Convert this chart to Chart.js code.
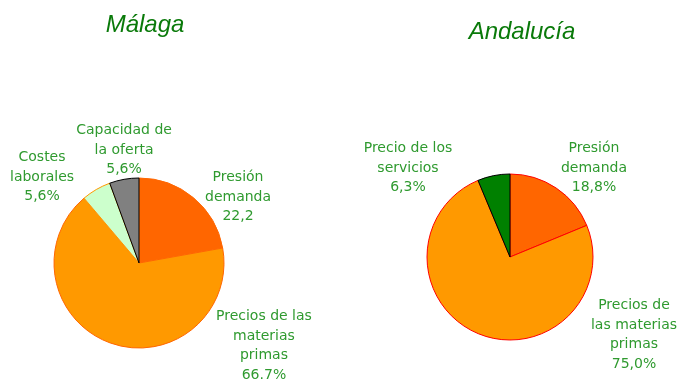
<!DOCTYPE html>
<html>
<head>
<meta charset="utf-8">
<script src="https://cdn.jsdelivr.net/npm/chart.js@4/dist/chart.umd.min.js"></script>
<style>
  html, body { margin: 0; padding: 0; background: #fff; }
  #wrap { position: relative; width: 680px; height: 380px; }
  .box { position: absolute; top: 0; width: 340px; height: 380px; }
</style>
</head>
<body>
<div id="wrap">
  <div class="box" style="left:0"><canvas id="malaga"></canvas></div>
  <div class="box" style="left:340px"><canvas id="andalucia"></canvas></div>
</div>
<script>
// Málaga
const malagaCats = [['Presión', 'demanda'], ['Precios de las', 'materias', 'primas'], ['Costes', 'laborales'], ['Capacidad de', 'la oferta']];
const malagaValues = [22.2, 66.7, 5.6, 5.6];
const malagaSep = [',', '.', ',', ','];
const malagaPct = ['', '%', '%', '%'];

// Andalucía
const andaluciaCats = [['Presión', 'demanda'], ['Precios de', 'las materias', 'primas'], ['Precio de los', 'servicios']];
const andaluciaValues = [18.8, 75.0, 6.3];
const andaluciaSep = [',', ',', ','];
const andaluciaPct = ['%', '%', '%'];

const LABEL_GREEN = '#2f9a2f';
const TITLE_GREEN = '#0a7a0a';

function valueText(v, sep, pct) {
    return v.toFixed(1).replace('.', sep) + pct;
}

// draws the title and the text beside each slice, anchored in units of the pie radius
const sliceText = {
    id: 'sliceText',
    afterDraw(chart, args, opts) {
        const ctx = chart.ctx;
        const arc = chart.getDatasetMeta(0).data[0];
        const cx = arc.x, cy = arc.y, r = arc.outerRadius;
        ctx.save();
        ctx.textAlign = 'center';
        ctx.textBaseline = 'middle';

        ctx.fillStyle = TITLE_GREEN;
        ctx.font = 'italic 24px "Liberation Sans", Arial, sans-serif';
        ctx.fillText(opts.title, opts.titleX, opts.titleY);

        ctx.fillStyle = LABEL_GREEN;
        ctx.font = '14px "DejaVu Sans", Verdana, sans-serif';
        const lh = 19.5;
        chart.data.labels.forEach((lines, i) => {
            const all = lines.concat([opts.texts[i]]);
            const x = cx + opts.anchors[i][0] * r;
            const y0 = cy + opts.anchors[i][1] * r - (all.length - 1) * lh / 2;
            all.forEach((t, k) => ctx.fillText(t, x, y0 + k * lh));
        });
        ctx.restore();
    }
};

function pie(id, cats, values, colors, borders, radius, padding, text) {
    const c = document.getElementById(id);
    c.width = 340; c.height = 380;
    return new Chart(c, {
        type: 'pie',
        data: {
            labels: cats,
            datasets: [{
                data: values,
                backgroundColor: colors,
                borderColor: borders,
                borderWidth: 1
            }]
        },
        options: {
            responsive: false,
            animation: false,
            radius: radius,
            layout: { padding: padding },
            plugins: {
                legend: { display: false },
                tooltip: { enabled: false },
                sliceText: text
            }
        },
        plugins: [sliceText]
    });
}

pie('malaga', malagaCats, malagaValues,
    ['#ff6600', '#ff9900', '#ccffcc', '#808080'],
    ['#ff6600', '#ff6600', '#ff9900', '#000000'],
    85, { left: 0, right: 62, top: 146, bottom: 0 },
    {
        title: 'Málaga', titleX: 145, titleY: 25,
        texts: malagaValues.map((v, i) => valueText(v, malagaSep[i], malagaPct[i])),
        anchors: [[1.165, -0.776], [1.47, 0.976], [-1.141, -1.012], [-0.176, -1.329]]
    });

pie('andalucia', andaluciaCats, andaluciaValues,
    ['#ff6600', '#ff9900', '#008000'],
    ['#ff0000', '#ff0000', '#000000'],
    83, { left: 0, right: 0, top: 134, bottom: 0 },
    {
        title: 'Andalucía', titleX: 182, titleY: 32,
        texts: andaluciaValues.map((v, i) => valueText(v, andaluciaSep[i], andaluciaPct[i])),
        anchors: [[1.012, -1.072], [1.494, 0.94], [-1.229, -1.072]]
    });
</script>
</body>
</html>
